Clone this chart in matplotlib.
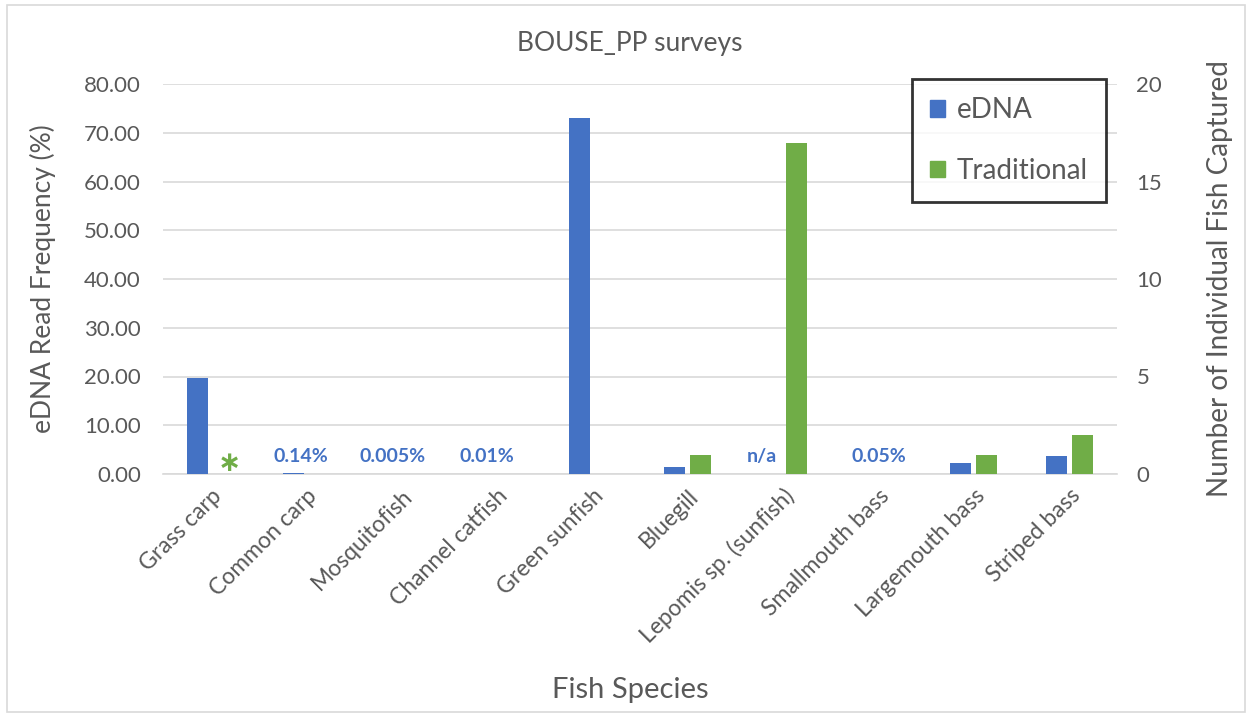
import matplotlib
matplotlib.use("Agg")
import matplotlib.pyplot as plt
from matplotlib.patches import Rectangle, Patch
import numpy as np

categories = ["Grass carp", "Common carp", "Mosquitofish", "Channel catfish",
              "Green sunfish", "Bluegill", "Lepomis sp. (sunfish)",
              "Smallmouth bass", "Largemouth bass", "Striped bass"]
edna_pct = [19.7, 0.14, 0.005, 0.01, 73.0, 1.4, 0.0, 0.05, 2.2, 3.7]
traditional_n = [0, 0, 0, 0, 0, 1, 17, 0, 1, 2]
annotations = ["*", "0.14%", "0.005%", "0.01%", "", "", "n/a", "0.05%", "", ""]
left_ticks = [0, 10, 20, 30, 40, 50, 60, 70, 80]
right_ticks = [0, 5, 10, 15, 20]

BLUE = "#4472C4"
GREEN = "#70AD47"
GRAY = "#595959"
GRID = "#D9D9D9"

plt.rcParams['font.family'] = ['Lato', 'DejaVu Sans']

fig = plt.figure(figsize=(12.48, 7.17), dpi=100)
ax = fig.add_axes([163/1248, 1-474/717, (1117-163)/1248, (474-84)/717])
ax2 = ax.twinx()

x = np.arange(len(categories))
w = 0.22
off = 0.136
ax.bar(x - off, edna_pct, w, color=BLUE, zorder=3, label="eDNA")
ax2.bar(x + off, traditional_n, w, color=GREEN, zorder=3, label="Traditional")

ax.set_xlim(-0.5, len(categories) - 0.5)
ax.set_ylim(0, 80)
ax2.set_ylim(0, 20)
ax.set_yticks(left_ticks)
ax.set_yticklabels([f"{v:.2f}" for v in left_ticks])
ax2.set_yticks(right_ticks)
ax.yaxis.grid(True, color=GRID, linewidth=1.2, zorder=0)
ax.set_axisbelow(True)

for a in (ax, ax2):
    for s in a.spines.values():
        s.set_visible(False)
    a.tick_params(length=0, colors=GRAY, labelsize=16)
ax.spines['bottom'].set_visible(True)
ax.spines['bottom'].set_color(GRID)
ax.spines['bottom'].set_linewidth(1.2)

ax.set_xticks(x)
ax.set_xticklabels(categories, rotation=45, ha='right', rotation_mode='anchor', fontsize=16.5, color=GRAY)
ax.tick_params(axis='x', pad=8)
ax.tick_params(axis='y', pad=16)
ax2.tick_params(axis='y', pad=14)

ax.set_ylabel("eDNA Read Frequency (%)", fontsize=19, color=GRAY, labelpad=20)
ax2.set_ylabel("Number of Individual Fish Captured", fontsize=20, color=GRAY, labelpad=32)
fig.text(630/1248, 1-690/717, "Fish Species", fontsize=21, color=GRAY, ha='center', va='center')
fig.text(630/1248, 1-43/717, "BOUSE_PP surveys", fontsize=19, color=GRAY, ha='center', va='center')

ann_off = {"*": 0.19, "0.14%": -0.06, "0.005%": -0.09, "0.01%": -0.1, "n/a": -0.22, "0.05%": 0.0}
for i, t in enumerate(annotations):
    if not t:
        continue
    if t == "*":
        ax.text(i + ann_off[t], 2.2, "\u2217", color=GREEN, fontsize=20, fontweight='bold',
                ha='center', va='center', family=['DejaVu Sans'])
    else:
        ax.text(i + ann_off[t], 3.5, t, color=BLUE, fontsize=14, fontweight='bold',
                ha='center', va='center')

handles = [Patch(color=BLUE, label="eDNA"), Patch(color=GREEN, label="Traditional")]
leg = ax2.legend(handles=handles, loc='upper left', bbox_to_anchor=((912-163)/954, 1 + 5/390),
                 frameon=True, fontsize=20, labelspacing=1.25, handlelength=0.55,
                 handleheight=0.55, handletextpad=0.4, borderpad=0.65, borderaxespad=0,
                 fancybox=False, labelcolor=GRAY)
leg.get_frame().set_edgecolor('black')
leg.get_frame().set_linewidth(2)

fig.patches.append(Rectangle((7/1248, 5/717), 1238/1248, 707/717, transform=fig.transFigure,
                             fill=False, edgecolor=GRID, linewidth=1.2))

fig.savefig("out.png", dpi=100)
